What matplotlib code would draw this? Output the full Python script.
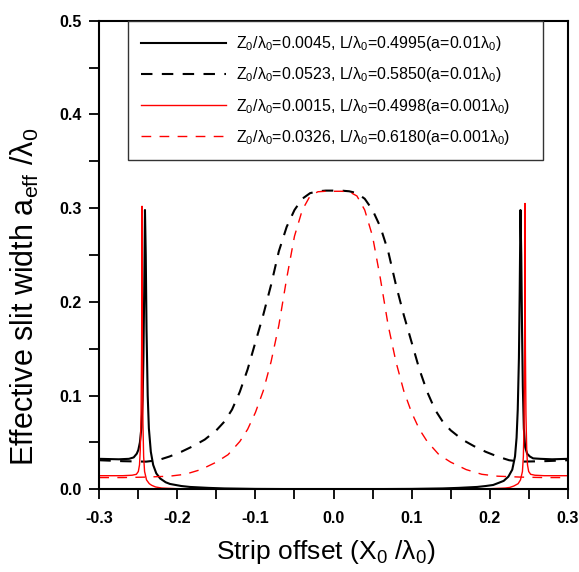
import numpy as np
import matplotlib
matplotlib.use('Agg')
import matplotlib.pyplot as plt
from matplotlib.ticker import MultipleLocator, FormatStrFormatter

plt.rcParams['font.family'] = ['Liberation Sans', 'DejaVu Sans']
plt.rcParams['mathtext.fontset'] = 'custom'
plt.rcParams['mathtext.rm'] = 'Liberation Sans'
plt.rcParams['mathtext.it'] = 'Liberation Sans'
plt.rcParams['mathtext.bf'] = 'Liberation Sans:bold'

# black solid: Z0/l0=0.0045, L/l0=0.4995, a=0.01 l0
bs_x = [-0.300, -0.275, -0.262, -0.256, -0.252, -0.250, -0.248, -0.246, -0.2445, -0.2435,
        -0.2425, -0.2415, -0.2405, -0.2395, -0.238, -0.2365, -0.234, -0.231, -0.227, -0.222,
        -0.215, -0.2095, -0.195, -0.184, -0.160, -0.140, -0.100, -0.050, 0.000,
        0.050, 0.100, 0.140, 0.160, 0.184, 0.195, 0.2045, 0.212, 0.218, 0.224,
        0.229, 0.2325, 0.2345, 0.236, 0.2375, 0.2385, 0.2395, 0.2405, 0.2415, 0.2425,
        0.2438, 0.2455, 0.248, 0.2515, 0.2557, 0.265, 0.280, 0.300]
bs_y = [0.0325, 0.032, 0.0325, 0.034, 0.038, 0.042, 0.050, 0.066, 0.095, 0.14,
        0.21, 0.298, 0.25, 0.17, 0.10, 0.065, 0.040, 0.026, 0.017, 0.0115,
        0.0075, 0.0057, 0.0035, 0.0025, 0.0015, 0.0009, 0.0004, 0.0002, 0.0001,
        0.0002, 0.0004, 0.0009, 0.0015, 0.0025, 0.0035, 0.0046, 0.007, 0.009, 0.0135,
        0.021, 0.035, 0.055, 0.085, 0.14, 0.21, 0.298, 0.25, 0.17, 0.11,
        0.065, 0.045, 0.038, 0.035, 0.033, 0.0325, 0.032, 0.0325]

# black dashed: Z0/l0=0.0523, L/l0=0.5850, a=0.01 l0
bd_x = [-0.30, -0.27, -0.24, -0.225, -0.21, -0.195, -0.18, -0.165, -0.15, -0.14, -0.13,
        -0.12, -0.11, -0.10, -0.09, -0.08, -0.07, -0.06, -0.05, -0.04, -0.03, -0.02,
        -0.01, 0.0, 0.01, 0.02, 0.03, 0.04, 0.05, 0.06, 0.07, 0.08, 0.09, 0.10,
        0.11, 0.12, 0.13, 0.14, 0.15, 0.165, 0.18, 0.195, 0.21, 0.225, 0.24, 0.27, 0.30]
bd_y = [0.031, 0.030, 0.0295, 0.031, 0.035, 0.040, 0.046, 0.053, 0.063, 0.072, 0.085,
        0.104, 0.128, 0.157, 0.186, 0.218, 0.254, 0.280, 0.298, 0.310, 0.316, 0.318,
        0.3187, 0.3187, 0.3187, 0.318, 0.316, 0.310, 0.298, 0.280, 0.254, 0.218, 0.186, 0.157,
        0.128, 0.104, 0.085, 0.072, 0.063, 0.053, 0.046, 0.040, 0.035, 0.031, 0.0295, 0.030, 0.031]

# red solid: Z0/l0=0.0015, L/l0=0.4998, a=0.001 l0
rs_x = [-0.300, -0.270, -0.258, -0.2525, -0.2500, -0.2485, -0.2475, -0.2465, -0.2458, -0.2453,
        -0.2448, -0.2441, -0.2432, -0.242, -0.2395, -0.236, -0.233, -0.228, -0.220, -0.200,
        -0.150, -0.100, 0.000, 0.100, 0.150, 0.200, 0.220, 0.2259, 0.231, 0.2365,
        0.2395, 0.242, 0.2432, 0.2441, 0.2448, 0.2453, 0.2458, 0.2465, 0.2475, 0.2485,
        0.2500, 0.2525, 0.258, 0.270, 0.300]
rs_y = [0.0145, 0.0145, 0.015, 0.016, 0.019, 0.026, 0.042, 0.080, 0.150, 0.302,
        0.150, 0.070, 0.035, 0.019, 0.010, 0.006, 0.0043, 0.0025, 0.0013, 0.0006,
        0.0002, 0.0001, 0.0, 0.0001, 0.0002, 0.0006, 0.0013, 0.002, 0.0035, 0.006,
        0.010, 0.019, 0.035, 0.070, 0.150, 0.305, 0.150, 0.080, 0.042, 0.026,
        0.019, 0.016, 0.015, 0.0145, 0.0145]

# red dashed: Z0/l0=0.0326, L/l0=0.6180, a=0.001 l0
rd_x = [-0.30, -0.27, -0.24, -0.21, -0.19, -0.17, -0.15, -0.135, -0.12, -0.11, -0.10,
        -0.09, -0.08, -0.07, -0.06, -0.05, -0.04, -0.03, -0.02, -0.01, 0.0,
        0.01, 0.02, 0.03, 0.04, 0.05, 0.06, 0.07, 0.08, 0.09, 0.10, 0.11, 0.12,
        0.135, 0.15, 0.17, 0.19, 0.21, 0.24, 0.27, 0.30]
rd_y = [0.0125, 0.0125, 0.013, 0.014, 0.016, 0.021, 0.029, 0.037, 0.051, 0.064, 0.082,
        0.105, 0.136, 0.175, 0.225, 0.270, 0.298, 0.313, 0.3175, 0.318, 0.318,
        0.318, 0.3175, 0.313, 0.298, 0.270, 0.225, 0.175, 0.136, 0.105, 0.082, 0.064, 0.051,
        0.037, 0.029, 0.021, 0.016, 0.014, 0.013, 0.0125, 0.0125]

labels = [r'Z$_0$/λ$_0$=0.0045, L/λ$_0$=0.4995(a=0.01λ$_0$)',
          r'Z$_0$/λ$_0$=0.0523, L/λ$_0$=0.5850(a=0.01λ$_0$)',
          r'Z$_0$/λ$_0$=0.0015, L/λ$_0$=0.4998(a=0.001λ$_0$)',
          r'Z$_0$/λ$_0$=0.0326, L/λ$_0$=0.6180(a=0.001λ$_0$)']

fig = plt.figure(figsize=(5.79, 5.72), dpi=100)
ax = fig.add_axes([0.1715, 0.1446, 0.809, 0.8192])

ax.plot(bs_x, bs_y, color='black', lw=1.5, label=labels[0])
ax.plot(bd_x, bd_y, color='black', lw=1.5, linestyle=(0, (5.5, 4.5)), label=labels[1])
ax.plot(rs_x, rs_y, color='red', lw=1.0, label=labels[2])
ax.plot(rd_x, rd_y, color='red', lw=1.0, linestyle=(0, (7, 6)), label=labels[3])

ax.set_xlim(-0.3, 0.3)
ax.set_ylim(0.0, 0.5)
ax.xaxis.set_major_locator(MultipleLocator(0.1))
ax.xaxis.set_minor_locator(MultipleLocator(0.05))
ax.yaxis.set_major_locator(MultipleLocator(0.1))
ax.yaxis.set_minor_locator(MultipleLocator(0.05))
ax.xaxis.set_major_formatter(FormatStrFormatter('%.1f'))
ax.yaxis.set_major_formatter(FormatStrFormatter('%.1f'))
ax.tick_params(which='major', direction='out', length=7.5, width=1.3, labelsize=11.5)
ax.tick_params(which='minor', direction='out', length=7, width=1.3)
ax.tick_params(axis='x', which='major', pad=8)
ax.tick_params(axis='y', which='major', pad=5)
ax.tick_params(top=False, right=False)
for lab in ax.get_xticklabels() + ax.get_yticklabels():
    lab.set_fontweight('bold')
for sp in ax.spines.values():
    sp.set_linewidth(1.5)

ax.set_xlabel(r'Strip offset (X$_0$ /λ$_0$)', fontsize=19)
ax.xaxis.set_label_coords(0.483, -0.105)
ax.set_ylabel(r'Effective slit width a$_{\mathrm{eff}}$ /λ$_0$', fontsize=22)
ax.yaxis.set_label_coords(-0.125, 0.41)

leg = ax.legend(loc='upper left', bbox_to_anchor=(0.061, 0.703, 0.886, 0.297), mode='expand',
                borderaxespad=0, fontsize=11.5, handlelength=5.3, handletextpad=0.6,
                labelspacing=0.76, fancybox=False, framealpha=1, borderpad=0.85)
leg.get_frame().set_edgecolor('#333333')
leg.get_frame().set_linewidth(1.0)

fig.savefig('out.png', dpi=100)
